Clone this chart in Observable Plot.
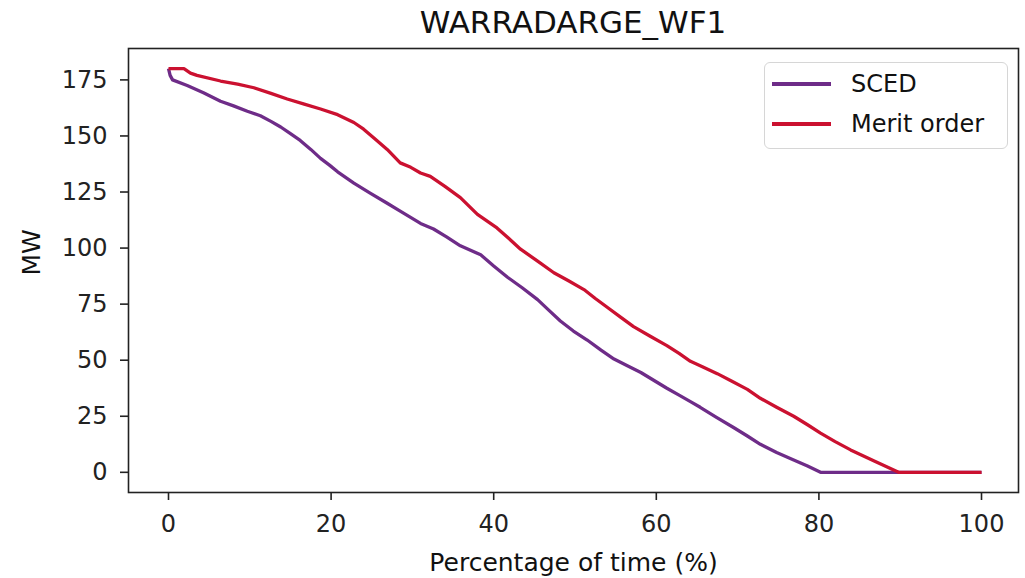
<!DOCTYPE html>
<html><head><meta charset="utf-8">
<script src="https://cdn.jsdelivr.net/npm/d3@7"></script>
<script src="https://cdn.jsdelivr.net/npm/@observablehq/plot@0.6"></script>
<style>
html,body{margin:0;padding:0;background:#fff;overflow:hidden;font-family:"DejaVu Sans",sans-serif;color:#111;}
#wrap{position:relative;width:1025px;height:578px;overflow:hidden;background:#fff}
#title{height:44px;margin-left:128px;width:890px;text-align:center;font-size:31px;line-height:31px;}
#title span{display:block;padding-top:7px;}
#chart svg{display:block;}
#legend{position:absolute;left:764px;top:62px;width:242px;height:85px;border:1.5px solid #d6d6d6;border-radius:6px;background:rgba(255,255,255,0.85);font-size:24px;}
.row{position:absolute;left:7px;height:30px;display:flex;align-items:center;}
.sw{width:59px;height:3.3px;margin-right:20px;}
</style></head>
<body>
<div id="wrap">
<div id="title"><span>WARRADARGE_WF1</span></div>
<div id="chart"></div>
<div id="legend"></div>
</div>
<script>
const titleText = "WARRADARGE_WF1";
const xLabel = "Percentage of time (%)";
const yLabel = "MW";
const seriesNames = ["SCED", "Merit order"];
const seriesColors = ["#6e2c88", "#cb1130"];
const xTicks = [0, 20, 40, 60, 80, 100];
const yTicks = [0, 25, 50, 75, 100, 125, 150, 175];

const scedX = [0,0.2,0.5,2.3,4.3,6.4,8,9.7,11.3,12.6,13.8,15,16.2,17.5,18.7,19.8,20.8,22.8,24.8,26.9,28.5,31,32.6,34.2,35.9,38.4,40,41.7,43.5,45.4,46.8,48.2,49.8,51.5,53.2,54.8,56.5,58.1,61.3,62.8,64.2,65.4,67.4,69.5,71.2,72.8,74.8,76.9,78.6,80.2,100];
const scedY = [180,177,175,172.5,169.3,165.5,163.4,161,159,156.5,154,151,148,144,140,137,134,129,124.5,120,116.5,111,108.5,105,101,97,92,87,82.3,77,72.2,67.5,63,59,54.5,50.5,47.4,44.5,37.5,34.4,31.5,29,24.5,20,16.2,12.5,8.8,5.5,2.8,0,0];

const meritX = [0,1.9,2.7,3.5,6.4,8.5,10.5,12.6,14.6,16.7,18.7,20.8,22.8,24,25.3,26.9,28.5,29.8,31,32.2,34,35.9,38,40.4,41.8,43.3,45.4,47.4,49.2,51.1,52.5,54,55.6,57.2,59.2,61.3,62.8,64.2,65.8,67.5,69.3,71.2,72.8,74.8,76.9,78.6,80.2,82,83.9,86.8,89.8,100];
const meritY = [180,180,178,177,174.5,173.1,171.5,169,166.5,164.2,162,159.5,156,153,149,144,138,136,133.5,132,127.5,122.5,115,109,104.5,99.5,94.2,89,85.4,81.5,77.5,73.5,69.2,65,60.8,56.5,53,49.5,46.9,44,40.6,37,33,29,25,21.2,17.5,13.7,10,5,0,0];

const data = [
  ...scedX.map((x, i) => ({x, y: scedY[i], s: seriesNames[0]})),
  ...meritX.map((x, i) => ({x, y: meritY[i], s: seriesNames[1]}))
];

const W = 1025, H = 534;
const chart = Plot.plot({
  width: W, height: H,
  marginTop: 4, marginLeft: 128, marginRight: 7, marginBottom: 86,
  style: {fontFamily: "DejaVu Sans, sans-serif", background: "white", color: "#111"},
  x: {domain: [-4.92, 104.55]},
  y: {domain: [-9, 189]},
  color: {domain: seriesNames, range: seriesColors},
  marks: [
    Plot.line(data, {x: "x", y: "y", z: "s", stroke: "s", strokeWidth: 3.3, strokeLinejoin: "round", strokeLinecap: "butt"}),
    Plot.frame({stroke: "#222", strokeWidth: 1.6}),
    Plot.axisX({ticks: xTicks, tickSize: 8, tickPadding: 14, fontSize: 24, color: "#222", strokeWidth: 1.6, label: null}),
    Plot.axisY({ticks: yTicks, tickSize: 8, tickPadding: 13, fontSize: 24, color: "#222", strokeWidth: 1.6, label: null}),
    Plot.text([xLabel], {text: d => d, frameAnchor: "bottom", lineAnchor: "bottom", dy: 78, fontSize: 25, fill: "#111"}),
    Plot.text([yLabel], {text: d => d, frameAnchor: "left", lineAnchor: "middle", rotate: -90, dx: -97, dy: 5, fontSize: 25, fill: "#111"})
  ]
});
document.getElementById("chart").appendChild(chart);

const legend = document.getElementById("legend");
seriesNames.forEach((name, i) => {
  const row = document.createElement("div");
  row.className = "row";
  row.style.top = (i === 0 ? 6 : 46) + "px";
  const sw = document.createElement("div");
  sw.className = "sw";
  sw.style.background = seriesColors[i];
  const t = document.createElement("span");
  t.textContent = name;
  row.appendChild(sw); row.appendChild(t);
  legend.appendChild(row);
});
</script>
</body></html>
